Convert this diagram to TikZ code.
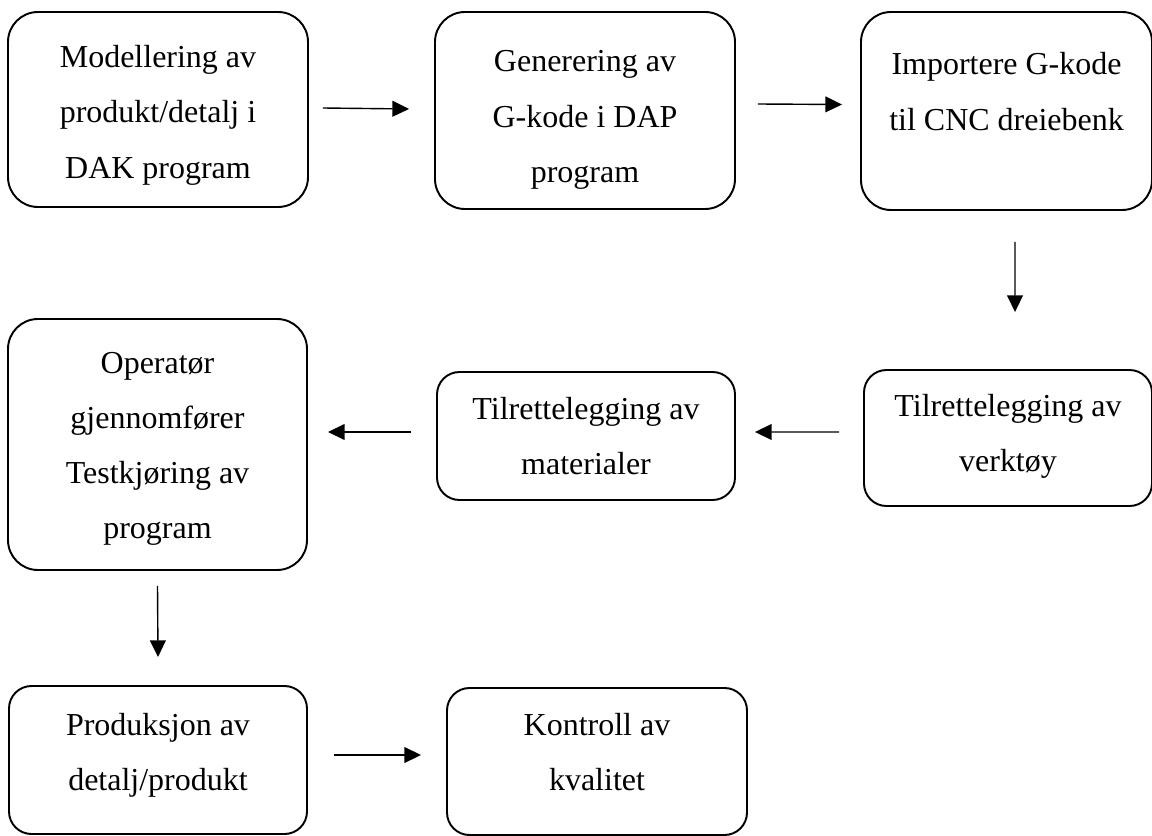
\documentclass[tikz,border=0pt]{standalone}
\usepackage{fontspec}
\setmainfont{Liberation Serif}
\usepackage{tikz}
\usetikzlibrary{positioning,arrows.meta}
\pgfdeclarelayer{nodelayer}
\pgfdeclarelayer{edgelayer}
\pgfsetlayers{main,nodelayer,edgelayer}
\tikzstyle{flowArrow}=[-{Triangle[length=9.5pt, width=9pt]}, black, line width=0.8pt]
\tikzstyle{flow_box}=[rectangle, rounded corners=0.6cm, draw=black, line width=1.1pt, inner sep=0pt, font=\fontsize{18.2pt}{31.3pt}\selectfont]
\tikzstyle{flow_small}=[flow_box, rounded corners=0.45cm]
% width, height, top gap, text
\newcommand{\flowtext}[4]{\parbox[c][#2][t]{#1}{\centering\rule{0pt}{#3}#4}}

\begin{document}
\begin{tikzpicture}
        \useasboundingbox (0,0) rectangle (23.04,-16.72);
        \begin{pgfonlayer}{nodelayer}
            % Row 1
            \node [style=flow_box] (Modellering) at (3.16, -2.19) {\flowtext{6cm}{3.9cm}{1.12cm}{Modellering av\\produkt/detalj i\\DAK program}};
            \node [style=flow_box] (Generering) at (11.70, -2.21) {\flowtext{6cm}{3.94cm}{1.2cm}{Generering av\\G-kode i DAP\\program}};
            \node [style=flow_box] (Importering) at (20.13, -2.22) {\flowtext{5.82cm}{3.96cm}{1.26cm}{Importere G-kode\\til CNC dreiebenk}};

            % Row 2
            \node [style=flow_small] (Verktoy) at (20.16, -8.76) {\flowtext{5.76cm}{2.72cm}{0.92cm}{Tilrettelegging av\\verktøy}};
            \node [style=flow_small] (Materialer) at (11.72, -8.72) {\flowtext{5.96cm}{2.56cm}{0.94cm}{Tilrettelegging av\\materialer}};
            \node [style=flow_box] (Testkjoring) at (3.15, -8.89) {\flowtext{5.98cm}{5.02cm}{1.08cm}{Operatør\\gjennomfører\\Testkjøring av\\program}};

            % Row 3
            \node [style=flow_small] (Produksjon) at (3.16, -15.2) {\flowtext{5.96cm}{2.96cm}{0.98cm}{Produksjon av\\detalj/produkt}};
            \node [style=flow_small] (Kontroll) at (11.94, -15.23) {\flowtext{6cm}{2.94cm}{0.94cm}{Kontroll av\\kvalitet}};
        \end{pgfonlayer}
        \begin{pgfonlayer}{edgelayer}
            %Right
            \draw [style={flowArrow}] ([shift={(0.28,0.03)}]Modellering.east) to ([shift={(-0.5,0.03)}]Generering.west);
            \draw [style={flowArrow}] ([shift={(0.44,0.13)}]Generering.east) to ([shift={(-0.36,0.13)}]Importering.west);

            %Down
            \draw [style={flowArrow}] ([shift={(0.17,-0.62)}]Importering.south) to ([shift={(0.14,1.14)}]Verktoy.north);

            %Left
            \draw [style={flowArrow}] ([shift={(-0.48,0.12)}]Verktoy.west) to ([shift={(0.38,0.08)}]Materialer.east);
            \draw [style={flowArrow}] ([shift={(-0.5,0.08)}]Materialer.west) to ([shift={(0.4,0.25)}]Testkjoring.east);

            % Down again
            \draw [style={flowArrow}] ([shift={(0,-0.3)}]Testkjoring.south) to ([shift={(0,0.56)}]Produksjon.north);

            %Right
            \draw [style={flowArrow}] ([shift={(0.52,0.1)}]Produksjon.east) to ([shift={(-0.5,0.13)}]Kontroll.west);
        \end{pgfonlayer}
    \end{tikzpicture}
\end{document}
